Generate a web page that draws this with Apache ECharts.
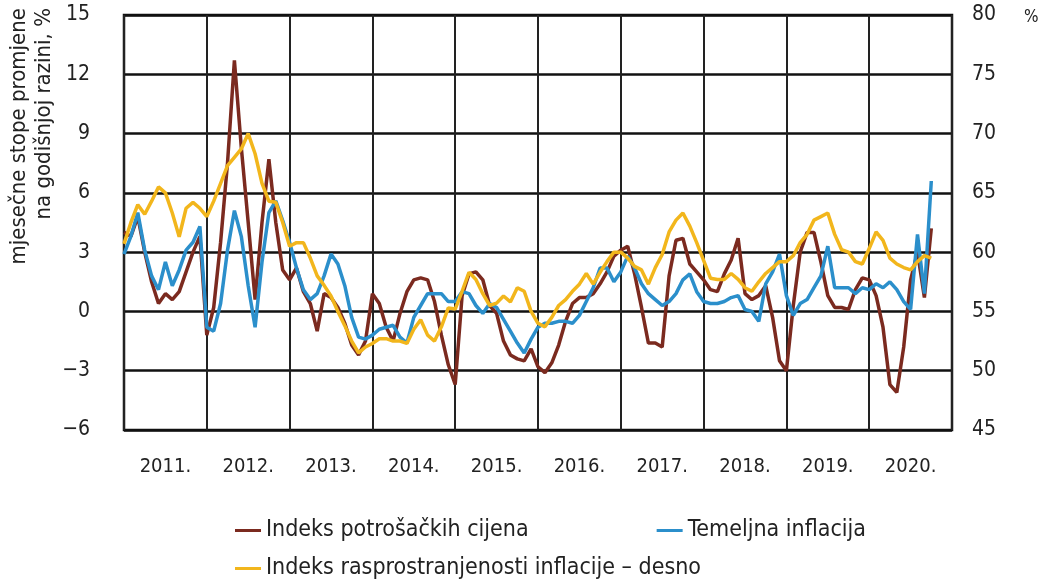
<!DOCTYPE html>
<html>
<head>
<meta charset="utf-8">
<script src="https://cdn.jsdelivr.net/npm/echarts/dist/echarts.min.js"></script>
<style>
  html, body { margin: 0; padding: 0; background: #fff; }
  #chart { width: 1047px; height: 582px; }
</style>
</head>
<body>
<div id="chart"></div>
<script>
// year labels under the axis, one per 12 months
const years = ['2011.', '2012.', '2013.', '2014.', '2015.', '2016.', '2017.', '2018.', '2019.', '2020.'];

// Indeks potrošačkih cijena, monthly, Jan 2011 - Oct 2020 (left axis)
const cpi = [
  4.0, 3.8, 4.8, 3.0, 1.5, 0.4, 0.9, 0.6, 1.0, 2.0, 3.0, 3.8,
  -1.2, 0.2, 3.5, 7.5, 12.7, 8.3, 4.5, 0.6, 4.5, 7.7, 4.5, 2.1,
  1.6, 2.2, 1.0, 0.4, -1.0, 0.9, 0.7, 0.2, -0.6, -1.7, -2.2, -1.5,
  0.9, 0.4, -0.8, -1.5, -0.1, 1.0, 1.6, 1.7, 1.6, 0.5, -1.2, -2.7,
  -3.7, 0.8, 1.9, 2.0, 1.6, 0.3, -0.1, -1.5, -2.2, -2.4, -2.5, -1.9,
  -2.8, -3.1, -2.6, -1.7, -0.5, 0.4, 0.7, 0.7, 0.9, 1.4, 2.0, 2.8,
  3.1, 3.3, 1.9, 0.2, -1.6, -1.6, -1.8, 1.8, 3.6, 3.7, 2.4, 2.0,
  1.6, 1.1, 1.0, 1.9, 2.6, 3.7, 0.9, 0.6, 0.8, 1.3, -0.3, -2.5,
  -3.0, 0.3, 3.0, 4.0, 4.0, 2.5, 0.8, 0.2, 0.2, 0.1, 1.1, 1.7,
  1.6, 0.8, -0.8, -3.7, -4.1, -1.8, 1.6, 3.0, 0.7, 4.2
];

// Temeljna inflacija (left axis)
const core = [
  2.9, 3.8, 5.0, 3.1, 1.8, 1.1, 2.5, 1.3, 2.1, 3.1, 3.5, 4.3,
  -0.8, -1.0, 0.4, 3.1, 5.1, 3.8, 1.3, -0.8, 2.5, 5.0, 5.6, 4.6,
  3.5, 2.2, 1.1, 0.6, 0.9, 1.8, 2.9, 2.4, 1.3, -0.3, -1.3, -1.4,
  -1.2, -0.9, -0.8, -0.7, -1.3, -1.6, -0.3, 0.3, 0.9, 0.9, 0.9, 0.5,
  0.5, 1.0, 0.9, 0.3, -0.1, 0.4, 0.2, -0.4, -1.0, -1.6, -2.1, -1.4,
  -0.8, -0.6, -0.6, -0.5, -0.5, -0.6, -0.2, 0.5, 1.2, 2.2, 2.2, 1.5,
  2.0, 2.8, 2.2, 1.4, 0.9, 0.6, 0.3, 0.5, 0.9, 1.6, 1.9, 1.0,
  0.5, 0.4, 0.4, 0.5, 0.7, 0.8, 0.1, 0.0, -0.5, 1.4, 2.0, 2.9,
  0.8, -0.2, 0.4, 0.6, 1.2, 1.8, 3.3, 1.2, 1.2, 1.2, 0.9, 1.2,
  1.1, 1.4, 1.2, 1.5, 1.1, 0.5, 0.1, 3.9, 0.9, 6.6
];

// Indeks rasprostranjenosti inflacije, % (right axis)
const diffusion = [
  60.7, 62.5, 64.0, 63.2, 64.3, 65.5, 65.0, 63.3, 61.3, 63.7, 64.2, 63.7,
  63.0, 64.3, 65.8, 67.3, 68.0, 68.7, 70.0, 68.3, 65.8, 64.3, 64.2, 62.5,
  60.5, 60.8, 60.8, 59.5, 58.0, 57.2, 56.3, 55.0, 53.8, 52.5, 51.5, 52.0,
  52.3, 52.7, 52.7, 52.5, 52.5, 52.3, 53.5, 54.3, 53.0, 52.5, 53.7, 55.3,
  55.2, 56.7, 58.3, 57.7, 56.5, 55.5, 55.7, 56.3, 55.8, 57.0, 56.7, 55.0,
  54.0, 53.7, 54.5, 55.5, 56.0, 56.7, 57.3, 58.2, 57.3, 58.3, 59.2, 60.0,
  60.0, 59.5, 58.8, 58.5, 57.3, 58.7, 59.8, 61.7, 62.7, 63.3, 62.2, 60.8,
  59.3, 57.8, 57.7, 57.7, 58.2, 57.7, 57.0, 56.7, 57.5, 58.2, 58.7, 59.2,
  59.2, 59.7, 60.8, 61.5, 62.7, 63.0, 63.3, 61.5, 60.2, 60.0, 59.2, 59.0,
  60.3, 61.7, 61.0, 59.5, 59.0, 58.7, 58.5, 59.2, 59.7, 59.5
];

const FONT = "'Liberation Sans Narrow', 'DejaVu Sans Condensed', 'Liberation Sans', sans-serif";
const TXT = '#222';

// month index -> x position
const toPoints = arr => arr.map((v, i) => [i, v]);

const chart = echarts.init(document.getElementById('chart'));

chart.setOption({
  animation: false,
  textStyle: { fontFamily: FONT, color: TXT },
  grid: {
    left: 124, right: 95, top: 15, bottom: 152,
    show: true, borderColor: '#111', borderWidth: 2.5
  },
  xAxis: [
    {
      type: 'value', min: 0, max: 120, interval: 12,
      axisLine: { show: false }, axisTick: { show: false }, axisLabel: { show: false },
      splitLine: { show: true, lineStyle: { color: '#222', width: 2 } }
    },
    {
      type: 'category', data: years, position: 'bottom', boundaryGap: true,
      axisLine: { show: false }, axisTick: { show: false }, splitLine: { show: false },
      axisLabel: { fontSize: 20, color: TXT, fontFamily: FONT, margin: 27 }
    }
  ],
  yAxis: [
    {
      type: 'value', min: -6, max: 15, interval: 3, position: 'left',
      axisLine: { show: false }, axisTick: { show: false },
      splitLine: { lineStyle: { color: '#111', width: 2.5 } },
      axisLabel: {
        fontSize: 21, color: TXT, fontFamily: FONT, margin: 34,
        formatter: v => String(v).replace('-', '\u2212')
      }
    },
    {
      type: 'value', min: 45, max: 80, interval: 5, position: 'right',
      axisLine: { show: false }, axisTick: { show: false }, splitLine: { show: false },
      axisLabel: {
        fontSize: 21, color: TXT, fontFamily: FONT, margin: 20,
        formatter: v => v === 80 ? '{v|80}{p|%}' : String(v),
        rich: {
          v: { fontSize: 21, fontFamily: FONT, color: TXT },
          p: { fontSize: 17, fontFamily: FONT, color: TXT, padding: [6, 0, 0, 28] }
        }
      }
    }
  ],
  legend: [
    {
      data: ['Indeks potrošačkih cijena', 'Temeljna inflacija'],
      left: 230, top: 514, itemGap: 128, itemWidth: 26, itemHeight: 3, icon: 'rect',
      textStyle: { fontSize: 23, fontFamily: FONT, color: TXT }
    },
    {
      data: ['Indeks rasprostranjenosti inflacije \u2013 desno'],
      left: 230, top: 552, itemWidth: 26, itemHeight: 3, icon: 'rect',
      textStyle: { fontSize: 23, fontFamily: FONT, color: TXT }
    }
  ],
  graphic: [
    {
      type: 'text', x: 7, y: 8, rotation: Math.PI / 2,
      style: {
        text: 'mjesečne stope promjene\nna godišnjoj razini, %',
        fontSize: 22, fontFamily: FONT, fill: TXT,
        align: 'right', verticalAlign: 'top', lineHeight: 25
      }
    }
  ],
  series: [
    {
      name: 'Indeks potrošačkih cijena', type: 'line', xAxisIndex: 0, yAxisIndex: 0,
      data: toPoints(cpi), showSymbol: false,
      itemStyle: { color: '#7b2a1f' }, lineStyle: { color: '#7b2a1f', width: 3.5 }
    },
    {
      name: 'Temeljna inflacija', type: 'line', xAxisIndex: 0, yAxisIndex: 0,
      data: toPoints(core), showSymbol: false,
      itemStyle: { color: '#2b8fcb' }, lineStyle: { color: '#2b8fcb', width: 3.5 }
    },
    {
      name: 'Indeks rasprostranjenosti inflacije \u2013 desno', type: 'line', xAxisIndex: 0, yAxisIndex: 1,
      data: toPoints(diffusion), showSymbol: false,
      itemStyle: { color: '#f2b61c' }, lineStyle: { color: '#f2b61c', width: 3.5 }
    }
  ]
});
</script>
</body>
</html>
